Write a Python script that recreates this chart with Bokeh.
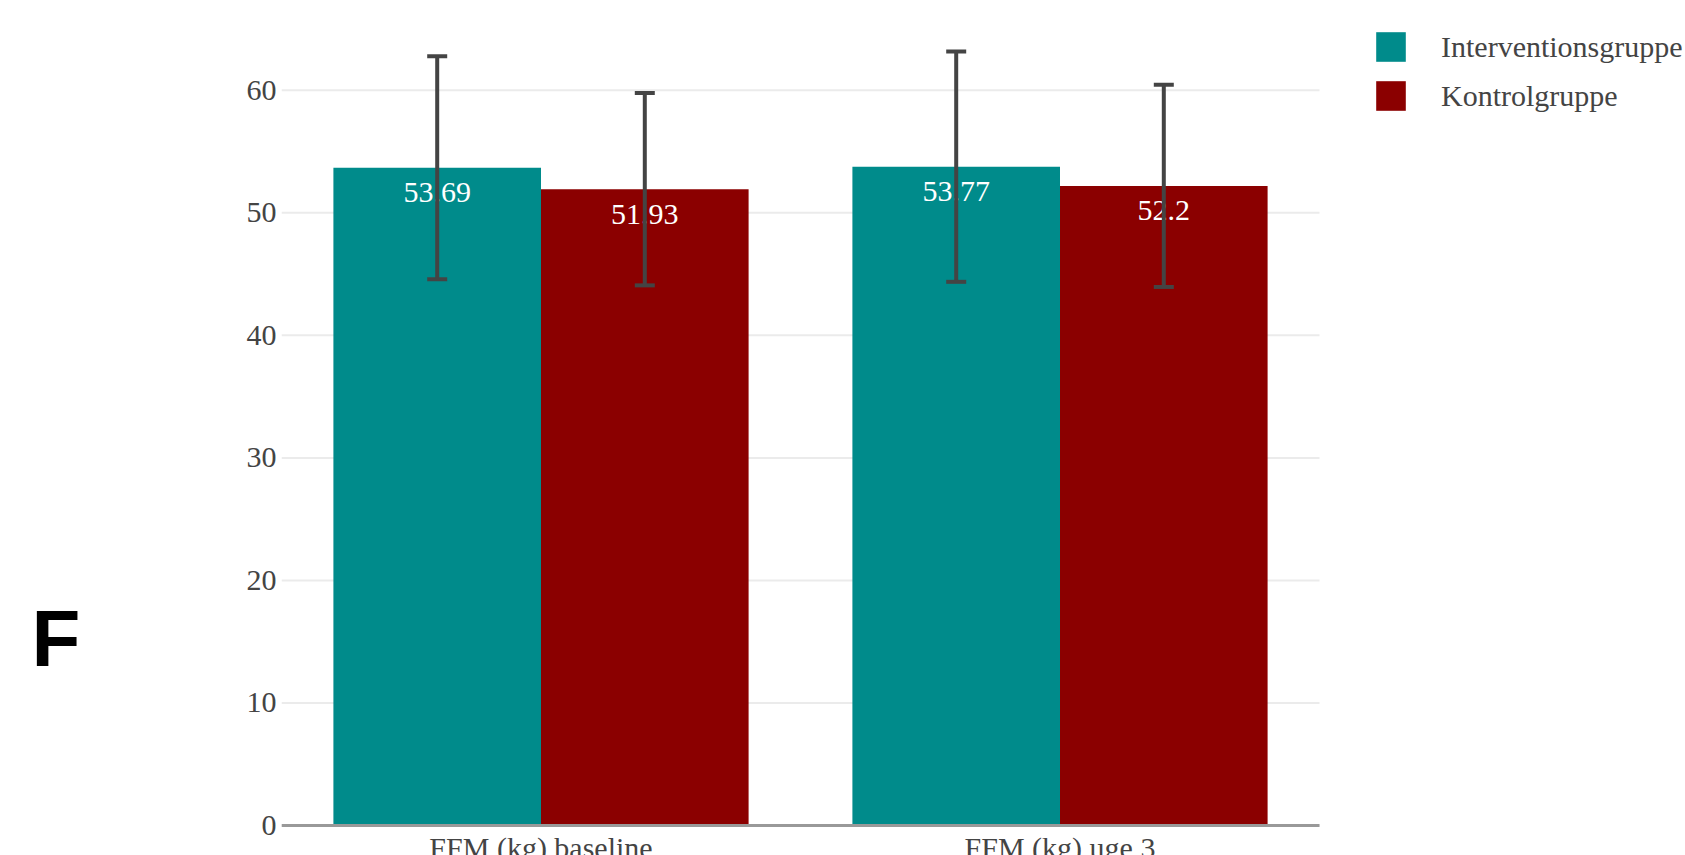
from bokeh.plotting import figure
from bokeh.layouts import row
from bokeh.models import ColumnDataSource, Range1d, Whisker, TeeHead
from bokeh.core.properties import value
from bokeh.embed import file_html
from bokeh.resources import INLINE

# Fat-free mass (kg), mean ± SD per group
categories = ["FFM (kg) baseline", "FFM (kg) uge 3"]
groups = ["Interventionsgruppe", "Kontrolgruppe"]
intervention_mean = [53.69, 53.77]
intervention_sd = [9.1, 9.4]
control_mean = [51.93, 52.2]
control_sd = [7.85, 8.25]
y_ticks = [0, 10, 20, 30, 40, 50, 60]
panel_letter = "F"

group_colors = ["#008B8B", "#8B0000"]
group_offsets = [-0.2, 0.2]
BAR_WIDTH = 0.4
SERIF = "Liberation Serif"
TEXT_GREY = "#444444"
HEIGHT = 855

# ---- narrow strip holding the panel letter -------------------------------
letter_w = 221
fig_letter = figure(width=letter_w, height=HEIGHT, x_range=Range1d(0, letter_w),
                    y_range=Range1d(0, HEIGHT), output_backend="svg",
                    toolbar_location=None, title=None, min_border=0)
fig_letter.axis.visible = False
fig_letter.grid.visible = False
fig_letter.outline_line_color = None
fig_letter.text(x=[31], y=[217], text=[panel_letter], text_font=value("Liberation Sans"),
                text_font_style="bold", text_font_size="80px", text_color="black",
                text_align="left", text_baseline="alphabetic")

# ---- bar chart -----------------------------------------------------------
# one category occupies one unit on x; the plotting area continues to the
# right so the legend can sit beside the bars
unit_px = 519
frame_w = 1685 - letter_w - 60
p = figure(
    x_range=Range1d(0, frame_w / unit_px),
    y_range=Range1d(-2.45, 67.33),
    width=1685 - letter_w, height=HEIGHT,
    title=None,
    output_backend="svg", toolbar_location=None,
    min_border_left=60, min_border_right=0,
    min_border_top=0, min_border_bottom=0,
)

cat_centers = [i + 0.5 for i in range(len(categories))]
n_cat = len(categories)

# light horizontal grid, spanning the category area only
p.segment(x0=[0] * len(y_ticks), x1=[n_cat] * len(y_ticks), y0=y_ticks, y1=y_ticks,
          line_color="#ebebeb", line_width=2)

series = [
    (groups[0], intervention_mean, intervention_sd),
    (groups[1], control_mean, control_sd),
]

whiskers = []
for (name, means, sds), color, off in zip(series, group_colors, group_offsets):
    src = ColumnDataSource(dict(
        x=[c + off for c in cat_centers],
        mean=means,
        lower=[m - s for m, s in zip(means, sds)],
        upper=[m + s for m, s in zip(means, sds)],
        label=[f"{m:g}" for m in means],
    ))
    p.vbar(x="x", top="mean", width=BAR_WIDTH, source=src,
           fill_color=color, line_color=None, legend_label=name)
    p.text(x="x", y="mean", text="label", source=src,
           text_color="white", text_font=value(SERIF), text_font_size="30px",
           text_align="center", text_baseline="middle", y_offset=25)
    w = Whisker(base="x", upper="upper", lower="lower", source=src,
                line_color=TEXT_GREY, line_width=4, level="annotation")
    w.upper_head = TeeHead(size=20, line_color=TEXT_GREY, line_width=4)
    w.lower_head = TeeHead(size=20, line_color=TEXT_GREY, line_width=4)
    whiskers.append(w)

for w in whiskers:
    p.add_layout(w)

# grey base line along y = 0
p.segment(x0=[0], x1=[n_cat], y0=[0], y1=[0], line_color="#999999", line_width=3)

# category names under the bars
p.text(x=cat_centers, y=[0] * n_cat, text=categories, y_offset=22,
       text_font=value(SERIF), text_font_size="30px", text_color=TEXT_GREY,
       text_align="center", text_baseline="alphabetic")

# axes
p.xaxis.visible = False
p.grid.visible = False
p.yaxis.ticker = y_ticks
p.yaxis.axis_line_color = None
p.yaxis.major_tick_line_color = None
p.yaxis.minor_tick_line_color = None
p.yaxis.major_tick_out = 0
p.yaxis.major_label_standoff = 5
p.yaxis.major_label_text_font = SERIF
p.yaxis.major_label_text_font_size = "30px"
p.yaxis.major_label_text_color = TEXT_GREY
p.outline_line_color = None

# legend to the right of the bars
leg = p.legend[0]
leg.location = (1091, 741)
leg.border_line_color = None
leg.background_fill_alpha = 0
leg.padding = 0
leg.margin = 0
leg.spacing = 12
leg.glyph_width = 37
leg.glyph_height = 37
leg.label_height = 37
leg.label_standoff = 32
leg.label_text_font = SERIF
leg.label_text_font_size = "30px"
leg.label_text_color = TEXT_GREY
leg.label_text_baseline = "middle"

layout = row(fig_letter, p, spacing=0)
open("out.html", "w").write(file_html(layout, INLINE))
